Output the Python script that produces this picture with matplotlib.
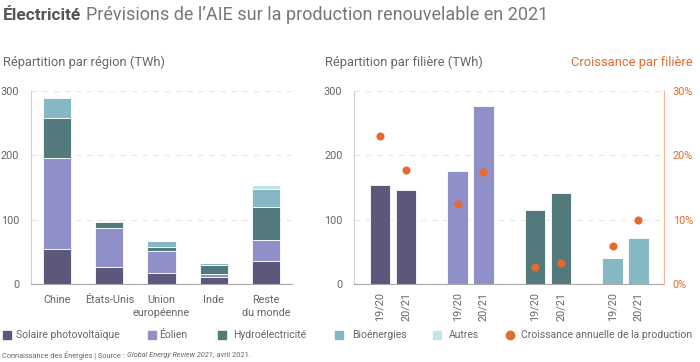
import matplotlib
matplotlib.use("Agg")
import matplotlib.pyplot as plt
import numpy as np
from matplotlib.patches import Rectangle
from matplotlib.lines import Line2D

plt.rcParams['font.family'] = ['Roboto', 'DejaVu Sans']

# ---- data ----
regions = ["Chine", "États-Unis", "Union\neuropéenne", "Inde", "Reste\ndu monde"]
solaire = [54, 26, 16.5, 11, 36]
eolien = [142, 61, 34.5, 4, 33]
hydro = [62, 9, 7, 15, 50]
bio = [31, 1.5, 8, 2, 29]
autres = [1.5, 1, 1, 1, 5]

filieres = ["Solaire photovoltaïque", "Éolien", "Hydroélectricité", "Bioénergies"]
periodes = ["19/20", "20/21"]
prod_1920 = [153, 176, 115, 40.5]
prod_2021 = [145.5, 277, 141, 72]
croiss_1920 = [23.0, 12.4, 2.6, 5.9]
croiss_2021 = [17.7, 17.4, 3.2, 10.0]

yticks = [0, 100, 200, 300]
pct_ticks = [0, 10, 20, 30]

colors = ["#5b587c", "#9090c8", "#527a7c", "#85b8c4", "#c2e3ea"]
orange = "#e8692c"
grey_text = "#666666"

fig = plt.figure(figsize=(7.0, 3.62), dpi=100)

def style_axes(ax):
    ax.set_ylim(0, 300)
    ax.set_yticks(yticks)
    ax.yaxis.grid(True, linestyle=(0, (5, 5)), color="#e6e6e6", linewidth=0.8)
    ax.set_axisbelow(True)
    for s in ["top", "right"]:
        ax.spines[s].set_visible(False)
    ax.spines["left"].set_color("#d0d0d0")
    ax.spines["bottom"].set_color("#aaaaaa")
    ax.tick_params(length=0, labelsize=7.8, colors=grey_text)
    ax.tick_params(axis='y', pad=8.5)

# ---- left chart ----
ax1 = fig.add_axes([0.0443, 0.2155, 0.373, 0.534])
x = np.arange(len(regions))
bottom = np.zeros(len(regions))
for vals, c in zip([solaire, eolien, hydro, bio, autres], colors):
    ax1.bar(x, vals, 0.54, bottom=bottom, color=c, edgecolor="white", linewidth=0.6)
    bottom += np.array(vals)
ax1.set_xlim(-0.5, 4.5)
style_axes(ax1)
ax1.set_xticks(x)
ax1.set_xticklabels(regions, linespacing=1.3)
ax1.tick_params(axis='x', pad=8)

# ---- right chart ----
ax2 = fig.add_axes([0.506, 0.2155, 0.443, 0.534])
g = np.arange(len(filieres))
off = 0.167
w = 0.266
for i in range(len(filieres)):
    ax2.bar(g[i] - off, prod_1920[i], w, color=colors[i], edgecolor="white", linewidth=0.6)
    ax2.bar(g[i] + off, prod_2021[i], w, color=colors[i], edgecolor="white", linewidth=0.6)
ax2.set_xlim(-0.5, 3.5)
style_axes(ax2)
pos = np.concatenate([g - off, g + off])
labs = [periodes[0]] * len(g) + [periodes[1]] * len(g)
ax2.set_xticks(pos)
ax2.set_xticklabels(labs, rotation=90)
ax2.tick_params(axis='x', pad=6)

ax3 = ax2.twinx()
ax3.set_ylim(0, 30)
ax3.set_yticks(pct_ticks)
ax3.set_yticklabels([f"{t}%" for t in pct_ticks])
ax3.scatter(g - off, croiss_1920, s=34, color=orange, zorder=5, linewidths=0)
ax3.scatter(g + off, croiss_2021, s=34, color=orange, zorder=5, linewidths=0)
for s in ["top", "left", "bottom"]:
    ax3.spines[s].set_visible(False)
ax3.spines["right"].set_color("#f2b48e")
ax3.tick_params(length=0, labelsize=7.8, colors=orange, pad=6)

# ---- titles ----
r = fig.canvas.get_renderer()
ty = 1 - 15 / 362
t0 = fig.text(0.004, ty, "Électricité", fontsize=12.5, fontweight="bold", color="#555555", va="center")
bb = t0.get_window_extent(r)
fig.text((bb.x1 + 5) / 700, ty, "Prévisions de l’AIE sur la production renouvelable en 2021",
         fontsize=13, color="#777777", va="center")

fig.text(0.004, 0.828, "Répartition par région (TWh)", fontsize=9.3, color=grey_text, va="center")
fig.text(0.464, 0.828, "Répartition par filière (TWh)", fontsize=9.3, color=grey_text, va="center")
fig.text(0.990, 0.828, "Croissance par filière", fontsize=9.3, color=orange, va="center", ha="right")

# ---- legend ----
leg_labels = ["Solaire photovoltaïque", "Éolien", "Hydroélectricité", "Bioénergies", "Autres"]
sq_x = [3, 148, 218, 335, 433]
txt_x = [16, 159, 233, 352, 449]
ly = 362 - 335
for lab, c, sx, tx in zip(leg_labels, colors, sq_x, txt_x):
    fig.patches.append(Rectangle((sx / 700, (ly - 4) / 362), 8 / 700, 8 / 362,
                                 transform=fig.transFigure, color=c, figure=fig))
    fig.text(tx / 700, ly / 362, lab, fontsize=7.5, color=grey_text, va="center")
fig.add_artist(Line2D([510 / 700], [ly / 362], marker='o', markersize=6, color=orange,
                      transform=fig.transFigure, linestyle='none'))
fig.text(521 / 700, ly / 362, "Croissance annuelle de la production", fontsize=7.5, color=grey_text, va="center")

# ---- source ----
sy = (362 - 355) / 362
parts = [("Connaissance des Énergies | Source : ", "normal"),
         ("Global Energy Review 2021", "italic"),
         (", avril 2021.", "normal")]
xpos = 2
for txt, st in parts:
    t = fig.text(xpos / 700, sy, txt, fontsize=5.3, color=grey_text, va="center", style=st)
    bb = t.get_window_extent(r)
    xpos = bb.x1 + 0.5

fig.savefig("out.png", dpi=100)
